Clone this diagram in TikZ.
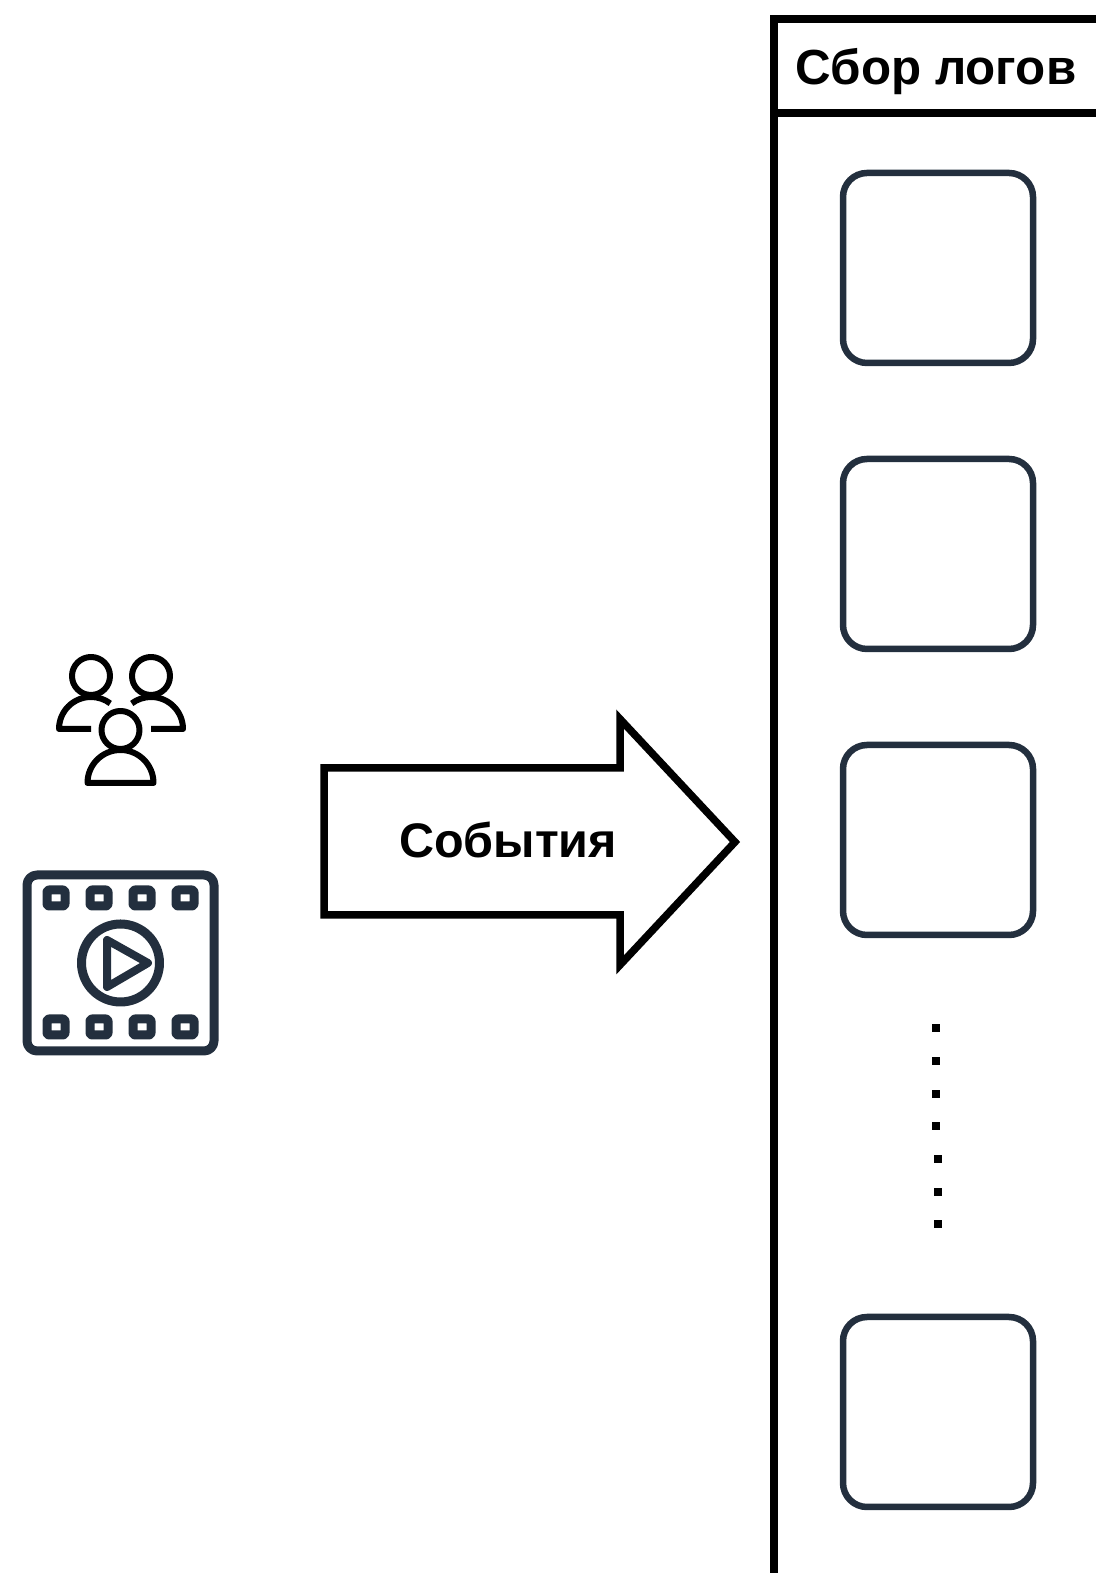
\documentclass[tikz,border=0pt]{standalone}
\usepackage{fontspec}
\setmainfont{Liberation Sans}
\definecolor{iconDark}{HTML}{232F3E}
\tikzstyle{logbox} = [rectangle, rounded corners = 24pt, minimum size = 190pt, inner sep = 0pt, line width = 6.5pt, draw = iconDark]
\tikzstyle{frameline} = [line width = 7.5pt, draw = black, line join = miter]
\tikzstyle{title} = [font = \fontsize{49.3}{60}\selectfont\bfseries, anchor = base, inner sep = 0pt]
\tikzstyle{person} = [line width = 6pt, draw = black, line join = round]
\tikzstyle{film} = [line width = 9pt, draw = iconDark, line join = round]
\begin{document}
\begin{tikzpicture}[x = 1pt, y = 1pt, node distance = 286pt]
\useasboundingbox (0,0) rectangle (1096,1573);

\draw [frameline] (1096,1554) -- (774,1554) -- (774,0);
\draw [frameline] (774,1460) -- (1096,1460);
\node (logTitle) [title] at (936,1488) {Сбор логов};

\node (logBoxA) [logbox] at (938,1305) {};
\node (logBoxB) [logbox, below of = logBoxA] {};
\node (logBoxC) [logbox, below of = logBoxB] {};
\node (logBoxD) [logbox, below of = logBoxC, yshift = -286pt] {};

\foreach \dotx/\doty in {936/545, 936/512, 936/479, 936/447, 938/414, 938/381, 938/349}
  \fill (\dotx-4,\doty-4) rectangle (\dotx+4,\doty+4);

\draw [frameline] (324,805) -- (620,805) -- (620,854) -- (735,731) -- (620,608) -- (620,658) -- (324,658) -- cycle;
\node (eventLabel) [title, font = \fontsize{48.5}{60}\selectfont\bfseries] at (508,715) {События};

\draw [person] (91,897) circle (19);
\draw [person] (151,897) circle (19);
\draw [person] (120.5,843) circle (19);
\draw [person] (91,844) -- (59,844) arc (180:53:32);
\draw [person] (151,844) -- (183,844) arc (0:127:32);
\draw [person] (87.5,790) arc (180:0:33) -- cycle;

\draw [film, rounded corners = 10pt] (27,698) rectangle (214,522);
\foreach \holex in {56, 99, 142, 185} {
  \draw [film, rounded corners = 2pt] (\holex-9,675-8) rectangle (\holex+9,675+8);
  \draw [film, rounded corners = 2pt] (\holex-9,546-8) rectangle (\holex+9,546+8);
}
\draw [film] (120.5,610) circle (39);
\draw [film, line width = 8pt] (107,633) -- (148,610) -- (107,586) -- cycle;
\end{tikzpicture}
\end{document}
